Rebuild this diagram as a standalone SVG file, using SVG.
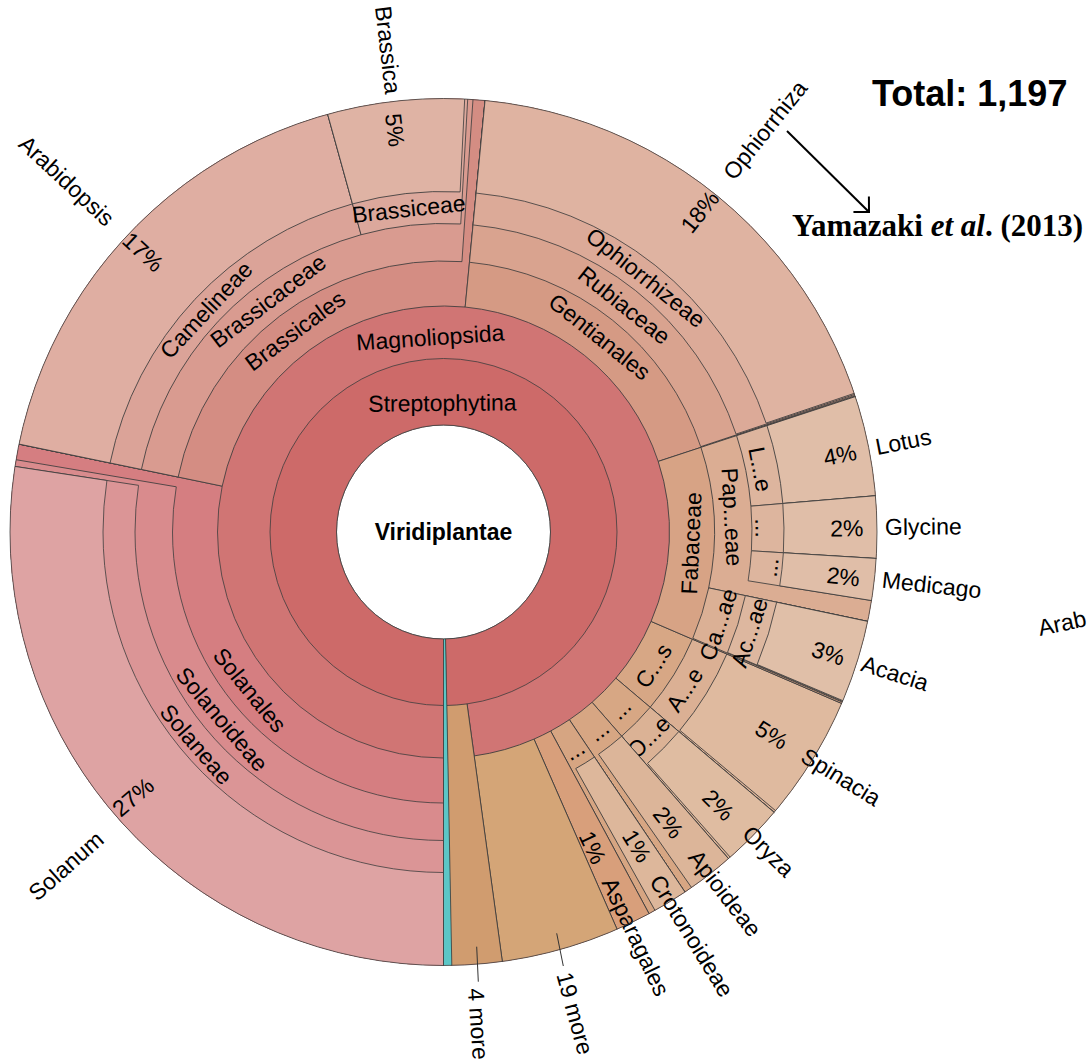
<svg xmlns="http://www.w3.org/2000/svg" width="1088" height="1063" viewBox="0 0 1088 1063">
<defs>
<style>
.f{fill:none}
.b{fill:none;stroke:#3d3d3d;stroke-width:0.8}
.t{font-family:"Liberation Sans",Arial,Helvetica,sans-serif;font-size:23px;fill:#000;text-anchor:middle;dominant-baseline:central}
.lead{stroke:#333;stroke-width:1;fill:none}
</style>
<!-- radial edges, one per ring start, pointing down (angle 0) -->
<line id="r1" x1="0" y1="107" x2="0" y2="433.5"/>
<line id="r2" x1="0" y1="173.5" x2="0" y2="433.5"/>
<line id="r3" x1="0" y1="226" x2="0" y2="433.5"/>
<line id="r4" x1="0" y1="271" x2="0" y2="433.5"/>
<line id="r5" x1="0" y1="308.5" x2="0" y2="433.5"/>
<line id="r6" x1="0" y1="340.5" x2="0" y2="433.5"/>
<marker id="ah" markerUnits="userSpaceOnUse" markerWidth="30" markerHeight="30" viewBox="-15 -15 30 30" refX="0" refY="0" orient="auto" overflow="visible">
<path d="M-11,-11 L0,0 L-11,11" fill="none" stroke="#000" stroke-width="2"/>
</marker>
</defs>
<rect width="1088" height="1063" fill="#fff"/>

<!-- sunburst, origin at the chart centre; angle 0 points down, clockwise.
     Each wedge runs from its ring out to the rim; children are painted over it. -->
<g id="chart" transform="translate(443.5 532)">

<g id="viridiplantae">
<circle r="107" fill="#fff" class="b"/>
<text class="t" style="font-weight:bold" x="0" y="0">Viridiplantae</text>
</g>

<g id="streptophytina">
<circle class="f" r="270.25" stroke-width="326.5" stroke="#cd6a69" pathLength="360" stroke-dasharray="359 400" transform="rotate(90)"/>
<use href="#r1" class="b"/>
<use href="#r1" class="b" transform="rotate(359)"/>
<circle class="b" r="107" pathLength="360" stroke-dasharray="359 400" transform="rotate(90)"/>
<text class="t" x="0" y="-129" transform="rotate(-0.5)">Streptophytina</text>
</g>

<g id="magnoliopsida">
<circle class="f" r="303.5" stroke-width="260" stroke="#d07574" pathLength="360" stroke-dasharray="352.2 400" transform="rotate(90)"/>
<use href="#r2" class="b"/>
<use href="#r2" class="b" transform="rotate(352.2)"/>
<circle class="b" r="173.5" pathLength="360" stroke-dasharray="352.2 400" transform="rotate(90)"/>
<text class="t" x="0" y="-195" transform="rotate(-3.9)">Magnoliopsida</text>
</g>

<!-- Solanales branch -->
<g id="solanales">
<circle class="f" r="329.75" stroke-width="207.5" stroke="#d57e81" pathLength="360" stroke-dasharray="101.7 400" transform="rotate(90)"/>
<use href="#r3" class="b"/>
<use href="#r3" class="b" transform="rotate(101.7)"/>
<circle class="b" r="226" pathLength="360" stroke-dasharray="101.7 400" transform="rotate(90)"/>
<text class="t" x="0" y="250" transform="rotate(50.8)">Solanales</text>
</g>
<g id="solanoideae">
<circle class="f" r="352.25" stroke-width="162.5" stroke="#d98b8d" pathLength="360" stroke-dasharray="99.6 400" transform="rotate(90)"/>
<use href="#r4" class="b"/>
<use href="#r4" class="b" transform="rotate(99.6)"/>
<circle class="b" r="271" pathLength="360" stroke-dasharray="99.6 400" transform="rotate(90)"/>
<text class="t" x="0" y="290" transform="rotate(49.8)">Solanoideae</text>
</g>
<g id="solaneae">
<circle class="f" r="371" stroke-width="125" stroke="#db9596" pathLength="360" stroke-dasharray="98.7 400" transform="rotate(90)"/>
<use href="#r5" class="b"/>
<use href="#r5" class="b" transform="rotate(98.7)"/>
<circle class="b" r="308.5" pathLength="360" stroke-dasharray="98.7 400" transform="rotate(90)"/>
<text class="t" x="0" y="326" transform="rotate(49.35)">Solaneae</text>
</g>
<g id="solanum">
<circle class="f" r="387" stroke-width="93" stroke="#dea3a3" pathLength="360" stroke-dasharray="98.7 400" transform="rotate(90)"/>
<use href="#r6" class="b"/>
<use href="#r6" class="b" transform="rotate(98.7)"/>
<circle class="b" r="340.5" pathLength="360" stroke-dasharray="98.7 400" transform="rotate(90)"/>
<text class="t" transform="translate(-310.5 265) rotate(-40.5)">27%</text>
<text class="t" transform="translate(-377.5 334) rotate(-41.5)">Solanum</text>
</g>

<!-- Brassicales branch -->
<g id="brassicales">
<circle class="f" r="329.75" stroke-width="207.5" stroke="#d48d83" pathLength="360" stroke-dasharray="83.8 400" transform="rotate(191.7)"/>
<use href="#r3" class="b" transform="rotate(101.7)"/>
<use href="#r3" class="b" transform="rotate(185.5)"/>
<circle class="b" r="226" pathLength="360" stroke-dasharray="83.8 400" transform="rotate(191.7)"/>
<text class="t" x="0" y="-250" transform="rotate(-36.4)">Brassicales</text>
</g>
<g id="brassicaceae">
<circle class="f" r="352.25" stroke-width="162.5" stroke="#d99b90" pathLength="360" stroke-dasharray="82.2 400" transform="rotate(191.7)"/>
<use href="#r4" class="b" transform="rotate(101.7)"/>
<use href="#r4" class="b" transform="rotate(183.9)"/>
<circle class="b" r="271" pathLength="360" stroke-dasharray="82.2 400" transform="rotate(191.7)"/>
<text class="t" x="0" y="-290" transform="rotate(-37.2)">Brassicaceae</text>
</g>
<g id="camelineae">
<circle class="f" r="371" stroke-width="125" stroke="#dba398" pathLength="360" stroke-dasharray="62.8 400" transform="rotate(191.7)"/>
<use href="#r5" class="b" transform="rotate(101.7)"/>
<use href="#r5" class="b" transform="rotate(164.5)"/>
<circle class="b" r="308.5" pathLength="360" stroke-dasharray="62.8 400" transform="rotate(191.7)"/>
<text class="t" x="0" y="-325" transform="rotate(-46.9)">Camelineae</text>
</g>
<g id="arabidopsis">
<circle class="f" r="387" stroke-width="93" stroke="#dfaea2" pathLength="360" stroke-dasharray="62.8 400" transform="rotate(191.7)"/>
<use href="#r6" class="b" transform="rotate(101.7)"/>
<use href="#r6" class="b" transform="rotate(164.5)"/>
<circle class="b" r="340.5" pathLength="360" stroke-dasharray="62.8 400" transform="rotate(191.7)"/>
<text class="t" transform="translate(-300.5 -280) rotate(43)">17%</text>
<text class="t" transform="translate(-376.8 -351.2) rotate(43)">Arabidopsis</text>
</g>
<g id="brassiceae">
<circle class="f" r="371" stroke-width="125" stroke="#dca89c" pathLength="360" stroke-dasharray="18.7 400" transform="rotate(254.5)"/>
<use href="#r5" class="b" transform="rotate(164.5)"/>
<use href="#r5" class="b" transform="rotate(183.2)"/>
<circle class="b" r="308.5" pathLength="360" stroke-dasharray="18.7 400" transform="rotate(254.5)"/>
<text class="t" x="0" y="-325" transform="rotate(-6.15)">Brassiceae</text>
</g>
<g id="brassica">
<circle class="f" r="387" stroke-width="93" stroke="#dfb3a4" pathLength="360" stroke-dasharray="18.3 400" transform="rotate(254.5)"/>
<use href="#r6" class="b" transform="rotate(164.5)"/>
<use href="#r6" class="b" transform="rotate(182.8)"/>
<circle class="b" r="340.5" pathLength="360" stroke-dasharray="18.3 400" transform="rotate(254.5)"/>
<text class="t" transform="translate(-48.5 -402) rotate(83.1)">5%</text>
<text class="t" transform="translate(-55.5 -482) rotate(83.4)">Brassica</text>
</g>

<!-- Gentianales branch -->
<g id="gentianales">
<circle class="f" r="329.75" stroke-width="207.5" stroke="#d59a84" pathLength="360" stroke-dasharray="66.3 400" transform="rotate(275.5)"/>
<use href="#r3" class="b" transform="rotate(185.5)"/>
<use href="#r3" class="b" transform="rotate(251.8)"/>
<circle class="b" r="226" pathLength="360" stroke-dasharray="66.3 400" transform="rotate(275.5)"/>
<text class="t" x="0" y="-250" transform="rotate(38.65)">Gentianales</text>
</g>
<g id="rubiaceae">
<circle class="f" r="352.25" stroke-width="162.5" stroke="#d9a38f" pathLength="360" stroke-dasharray="66.15 400" transform="rotate(275.5)"/>
<use href="#r4" class="b" transform="rotate(185.5)"/>
<use href="#r4" class="b" transform="rotate(251.65)"/>
<circle class="b" r="271" pathLength="360" stroke-dasharray="66.15 400" transform="rotate(275.5)"/>
<text class="t" x="0" y="-290" transform="rotate(38.55)">Rubiaceae</text>
</g>
<g id="ophiorrhizeae">
<circle class="f" r="371" stroke-width="125" stroke="#dcaa98" pathLength="360" stroke-dasharray="66 400" transform="rotate(275.5)"/>
<use href="#r5" class="b" transform="rotate(185.5)"/>
<use href="#r5" class="b" transform="rotate(251.5)"/>
<circle class="b" r="308.5" pathLength="360" stroke-dasharray="66 400" transform="rotate(275.5)"/>
<text class="t" x="0" y="-325" transform="rotate(38.5)">Ophiorrhizeae</text>
</g>
<g id="ophiorrhiza">
<circle class="f" r="387" stroke-width="93" stroke="#dfb3a1" pathLength="360" stroke-dasharray="65.85 400" transform="rotate(275.5)"/>
<use href="#r6" class="b" transform="rotate(185.5)"/>
<use href="#r6" class="b" transform="rotate(251.35)"/>
<circle class="b" r="340.5" pathLength="360" stroke-dasharray="65.85 400" transform="rotate(275.5)"/>
<text class="t" transform="translate(256.5 -320.3) rotate(-51.3)">18%</text>
<text class="t" transform="translate(321.5 -402) rotate(-51.35)">Ophiorrhiza</text>
</g>

<!-- Caryophyllales branch -->
<g id="caryophyllales">
<circle class="f" r="329.75" stroke-width="207.5" stroke="#d7a785" pathLength="360" stroke-dasharray="17 400" transform="rotate(383.3)"/>
<use href="#r3" class="b" transform="rotate(293.3)"/>
<use href="#r3" class="b" transform="rotate(310.3)"/>
<circle class="b" r="226" pathLength="360" stroke-dasharray="17 400" transform="rotate(383.3)"/>
<text class="t" x="0" y="249" transform="rotate(302.5)">C...s</text>
</g>
<g id="amaranthaceae">
<circle class="f" r="352.25" stroke-width="162.5" stroke="#dbb094" pathLength="360" stroke-dasharray="17 400" transform="rotate(383.3)"/>
<use href="#r4" class="b" transform="rotate(293.3)"/>
<use href="#r4" class="b" transform="rotate(310.3)"/>
<circle class="b" r="271" pathLength="360" stroke-dasharray="17 400" transform="rotate(383.3)"/>
<text class="t" x="0" y="288" transform="rotate(303.2)">A...e</text>
</g>
<g id="spinacia">
<circle class="f" r="371" stroke-width="125" stroke="#dfba9f" pathLength="360" stroke-dasharray="16.7 400" transform="rotate(383.3)"/>
<use href="#r5" class="b" transform="rotate(293.3)"/>
<use href="#r5" class="b" transform="rotate(310)"/>
<circle class="b" r="308.5" pathLength="360" stroke-dasharray="16.7 400" transform="rotate(383.3)"/>
<text class="t" transform="translate(328.2 203) rotate(31.7)">5%</text>
<text class="t" transform="translate(397.6 245) rotate(31.65)">Spinacia</text>
</g>

<!-- Poales branch -->
<g id="poales">
<circle class="f" r="329.75" stroke-width="207.5" stroke="#d7a784" pathLength="360" stroke-dasharray="8.6 400" transform="rotate(400.3)"/>
<use href="#r3" class="b" transform="rotate(310.3)"/>
<use href="#r3" class="b" transform="rotate(318.9)"/>
<circle class="b" r="226" pathLength="360" stroke-dasharray="8.6 400" transform="rotate(400.3)"/>
<text class="t" x="0" y="250" transform="rotate(315)">...</text>
</g>
<g id="oryzeae">
<circle class="f" r="352.25" stroke-width="162.5" stroke="#dbb295" pathLength="360" stroke-dasharray="8.6 400" transform="rotate(400.3)"/>
<use href="#r4" class="b" transform="rotate(310.3)"/>
<use href="#r4" class="b" transform="rotate(318.9)"/>
<circle class="b" r="271" pathLength="360" stroke-dasharray="8.6 400" transform="rotate(400.3)"/>
<text class="t" x="0" y="290" transform="rotate(315)">O...e</text>
</g>
<g id="oryza">
<circle class="f" r="371" stroke-width="125" stroke="#dfbca1" pathLength="360" stroke-dasharray="8.3 400" transform="rotate(400.3)"/>
<use href="#r5" class="b" transform="rotate(310.3)"/>
<use href="#r5" class="b" transform="rotate(318.6)"/>
<circle class="b" r="308.5" pathLength="360" stroke-dasharray="8.3 400" transform="rotate(400.3)"/>
<text class="t" transform="translate(274.8 273) rotate(44.8)">2%</text>
<text class="t" transform="translate(325.1 319.3) rotate(44.5)">Oryza</text>
</g>

<!-- Apiales branch -->
<g id="apiales">
<circle class="f" r="329.75" stroke-width="207.5" stroke="#d7a683" pathLength="360" stroke-dasharray="7.25 400" transform="rotate(408.9)"/>
<use href="#r3" class="b" transform="rotate(318.9)"/>
<use href="#r3" class="b" transform="rotate(326.15)"/>
<circle class="b" r="226" pathLength="360" stroke-dasharray="7.25 400" transform="rotate(408.9)"/>
<text class="t" x="0" y="252" transform="rotate(322)">...</text>
</g>
<g id="apioideae">
<circle class="f" r="352.25" stroke-width="162.5" stroke="#dcb599" pathLength="360" stroke-dasharray="6.2 400" transform="rotate(408.9)"/>
<use href="#r4" class="b" transform="rotate(318.9)"/>
<use href="#r4" class="b" transform="rotate(325.1)"/>
<circle class="b" r="271" pathLength="360" stroke-dasharray="6.2 400" transform="rotate(408.9)"/>
<text class="t" transform="translate(224.8 290.5) rotate(52.3)">2%</text>
<text class="t" transform="translate(281.5 361.3) rotate(52.1)">Apioideae</text>
</g>

<!-- Malpighiales branch -->
<g id="malpighiales">
<circle class="f" r="329.75" stroke-width="207.5" stroke="#d6a582" pathLength="360" stroke-dasharray="5.55 400" transform="rotate(416.15)"/>
<use href="#r3" class="b" transform="rotate(326.15)"/>
<use href="#r3" class="b" transform="rotate(331.7)"/>
<circle class="b" r="226" pathLength="360" stroke-dasharray="5.55 400" transform="rotate(416.15)"/>
<text class="t" x="0" y="254" transform="rotate(329)">...</text>
</g>
<g id="crotonoideae">
<circle class="f" r="352.25" stroke-width="162.5" stroke="#ddb79b" pathLength="360" stroke-dasharray="4.65 400" transform="rotate(416.15)"/>
<use href="#r4" class="b" transform="rotate(326.15)"/>
<use href="#r4" class="b" transform="rotate(330.8)"/>
<circle class="b" r="271" pathLength="360" stroke-dasharray="4.65 400" transform="rotate(416.15)"/>
<text class="t" transform="translate(193.2 314) rotate(58.4)">1%</text>
<text class="t" transform="translate(248.2 403.8) rotate(58.4)">Crotonoideae</text>
</g>

<g id="asparagales">
<circle class="f" r="329.75" stroke-width="207.5" stroke="#d89f7b" pathLength="360" stroke-dasharray="4.7 400" transform="rotate(421.7)"/>
<use href="#r3" class="b" transform="rotate(331.7)"/>
<use href="#r3" class="b" transform="rotate(336.4)"/>
<circle class="b" r="226" pathLength="360" stroke-dasharray="4.7 400" transform="rotate(421.7)"/>
<text class="t" transform="translate(149 315.5) rotate(64.7)">1%</text>
<text class="t" transform="translate(192.3 404.7) rotate(64.6)">Asparagales</text>
</g>

<g id="more-magnoliopsida">
<circle class="f" r="329.75" stroke-width="207.5" stroke="#d4a577" pathLength="360" stroke-dasharray="15.8 400" transform="rotate(426.4)"/>
<use href="#r3" class="b" transform="rotate(336.4)"/>
<use href="#r3" class="b" transform="rotate(352.2)"/>
<circle class="b" r="226" pathLength="360" stroke-dasharray="15.8 400" transform="rotate(426.4)"/>
<text class="t" transform="translate(131.5 481.3) rotate(74.7)">19 more</text>
</g>

<!-- Fabaceae branch: painted after its neighbours so its labels that run
     over the Caryophyllales edge stay on top -->
<g id="fabaceae">
<circle class="f" r="329.75" stroke-width="207.5" stroke="#d7a385" pathLength="360" stroke-dasharray="41.5 400" transform="rotate(341.8)"/>
<use href="#r3" class="b" transform="rotate(251.8)"/>
<use href="#r3" class="b" transform="rotate(293.3)"/>
<circle class="b" r="226" pathLength="360" stroke-dasharray="41.5 400" transform="rotate(341.8)"/>
<text class="t" x="0" y="248" transform="rotate(272.6)">Fabaceae</text>
</g>
<g id="papilionoideae">
<circle class="f" r="352.25" stroke-width="162.5" stroke="#dbad93" pathLength="360" stroke-dasharray="30.1 400" transform="rotate(341.8)"/>
<use href="#r4" class="b" transform="rotate(251.8)"/>
<use href="#r4" class="b" transform="rotate(281.9)"/>
<circle class="b" r="271" pathLength="360" stroke-dasharray="30.1 400" transform="rotate(341.8)"/>
<text class="t" x="0" y="-289" transform="rotate(87)">Pap...eae</text>
</g>
<g id="loteae">
<circle class="f" r="371" stroke-width="125" stroke="#ddb59e" pathLength="360" stroke-dasharray="13.4 400" transform="rotate(341.8)"/>
<use href="#r5" class="b" transform="rotate(251.8)"/>
<use href="#r5" class="b" transform="rotate(265.2)"/>
<circle class="b" r="308.5" pathLength="360" stroke-dasharray="13.4 400" transform="rotate(341.8)"/>
<text class="t" x="0" y="-323" transform="rotate(78.8)">L...e</text>
</g>
<g id="lotus">
<circle class="f" r="387" stroke-width="93" stroke="#e0bea8" pathLength="360" stroke-dasharray="13.4 400" transform="rotate(341.8)"/>
<use href="#r6" class="b" transform="rotate(251.8)"/>
<use href="#r6" class="b" transform="rotate(265.2)"/>
<circle class="b" r="340.5" pathLength="360" stroke-dasharray="13.4 400" transform="rotate(341.8)"/>
<text class="t" transform="translate(396.5 -77) rotate(-11)">4%</text>
<text class="t" transform="translate(459.8 -90.3) rotate(-11.1)">Lotus</text>
</g>
<g id="phaseoleae">
<circle class="f" r="371" stroke-width="125" stroke="#ddb59e" pathLength="360" stroke-dasharray="8.3 400" transform="rotate(355.2)"/>
<use href="#r5" class="b" transform="rotate(265.2)"/>
<use href="#r5" class="b" transform="rotate(273.5)"/>
<circle class="b" r="308.5" pathLength="360" stroke-dasharray="8.3 400" transform="rotate(355.2)"/>
<text class="t" x="0" y="-320" transform="rotate(89.3)">...</text>
</g>
<g id="glycine">
<circle class="f" r="387" stroke-width="93" stroke="#e0bea8" pathLength="360" stroke-dasharray="8.3 400" transform="rotate(355.2)"/>
<use href="#r6" class="b" transform="rotate(265.2)"/>
<use href="#r6" class="b" transform="rotate(273.5)"/>
<circle class="b" r="340.5" pathLength="360" stroke-dasharray="8.3 400" transform="rotate(355.2)"/>
<text class="t" transform="translate(403.2 -3.7) rotate(-0.5)">2%</text>
<text class="t" transform="translate(479.8 -5.3) rotate(-0.6)">Glycine</text>
</g>
<g id="trifolieae">
<circle class="f" r="371" stroke-width="125" stroke="#ddb59e" pathLength="360" stroke-dasharray="5.6 400" transform="rotate(363.5)"/>
<use href="#r5" class="b" transform="rotate(273.5)"/>
<use href="#r5" class="b" transform="rotate(279.1)"/>
<circle class="b" r="308.5" pathLength="360" stroke-dasharray="5.6 400" transform="rotate(363.5)"/>
<text class="t" x="0" y="328" transform="rotate(276.2)">...</text>
</g>
<g id="medicago">
<circle class="f" r="387" stroke-width="93" stroke="#e0bea8" pathLength="360" stroke-dasharray="5.6 400" transform="rotate(363.5)"/>
<use href="#r6" class="b" transform="rotate(273.5)"/>
<use href="#r6" class="b" transform="rotate(279.1)"/>
<circle class="b" r="340.5" pathLength="360" stroke-dasharray="5.6 400" transform="rotate(363.5)"/>
<text class="t" transform="translate(399.8 44.7) rotate(6.4)">2%</text>
<text class="t" transform="translate(488.2 53) rotate(6.2)">Medicago</text>
</g>
<g id="caesalpinioideae">
<circle class="f" r="352.25" stroke-width="162.5" stroke="#dbb095" pathLength="360" stroke-dasharray="11.2 400" transform="rotate(371.9)"/>
<use href="#r4" class="b" transform="rotate(281.9)"/>
<use href="#r4" class="b" transform="rotate(293.1)"/>
<circle class="b" r="271" pathLength="360" stroke-dasharray="11.2 400" transform="rotate(371.9)"/>
<text class="t" x="0" y="290" transform="rotate(288.6)">Ca...ae</text>
</g>
<g id="acacieae">
<circle class="f" r="371" stroke-width="125" stroke="#ddb79f" pathLength="360" stroke-dasharray="11.1 400" transform="rotate(371.9)"/>
<use href="#r5" class="b" transform="rotate(281.9)"/>
<use href="#r5" class="b" transform="rotate(293)"/>
<circle class="b" r="308.5" pathLength="360" stroke-dasharray="11.1 400" transform="rotate(371.9)"/>
<text class="t" x="0" y="322" transform="rotate(288.2)">Ac...ae</text>
</g>
<g id="acacia">
<circle class="f" r="387" stroke-width="93" stroke="#e0bfa8" pathLength="360" stroke-dasharray="11 400" transform="rotate(371.9)"/>
<use href="#r6" class="b" transform="rotate(281.9)"/>
<use href="#r6" class="b" transform="rotate(292.9)"/>
<circle class="b" r="340.5" pathLength="360" stroke-dasharray="11 400" transform="rotate(371.9)"/>
<text class="t" transform="translate(384.8 121.3) rotate(17.5)">3%</text>
<text class="t" transform="translate(451.5 141.3) rotate(17.4)">Acacia</text>
</g>

<g id="more-streptophytina">
<circle class="f" r="303.5" stroke-width="260" stroke="#d09c6f" pathLength="360" stroke-dasharray="6.8 400" transform="rotate(442.2)"/>
<use href="#r2" class="b" transform="rotate(352.2)"/>
<use href="#r2" class="b" transform="rotate(359)"/>
<circle class="b" r="173.5" pathLength="360" stroke-dasharray="6.8 400" transform="rotate(442.2)"/>
<text class="t" transform="translate(34.8 492) rotate(86)">4 more</text>
</g>

<g id="chlorophyta">
<circle class="f" r="270.25" stroke-width="326.5" stroke="#5cc6c6" pathLength="360" stroke-dasharray="1.1 400" transform="rotate(448.9)"/>
<use href="#r1" class="b" transform="rotate(358.9)"/>
<use href="#r1" class="b" transform="rotate(360)"/>
<circle class="b" r="107" pathLength="360" stroke-dasharray="1.1 400" transform="rotate(448.9)"/>
</g>

<circle id="rim" class="b" r="433.5"/>
</g>

<g id="connectors">
<line class="lead" x1="556.7" y1="933.3" x2="563.3" y2="966"/>
<line class="lead" x1="476.7" y1="946.7" x2="478.3" y2="981.7"/>
<line x1="787" y1="131" x2="869" y2="212" stroke="#000" stroke-width="2" marker-end="url(#ah)"/>
</g>

<g id="annotations">
<text x="872" y="105.5" style="font-family:'Liberation Sans',Arial,sans-serif;font-size:36px;font-weight:bold">Total: 1,197</text>
<text x="792" y="236" style="font-family:'Liberation Serif','Times New Roman',serif;font-size:31px;font-weight:bold">Yamazaki <tspan font-style="italic">et al</tspan>. (2013)</text>
<text x="1040" y="636" transform="rotate(-12 1040 636)" style="font-family:'Liberation Sans',Arial,sans-serif;font-size:23px">Arab</text>
</g>
</svg>
